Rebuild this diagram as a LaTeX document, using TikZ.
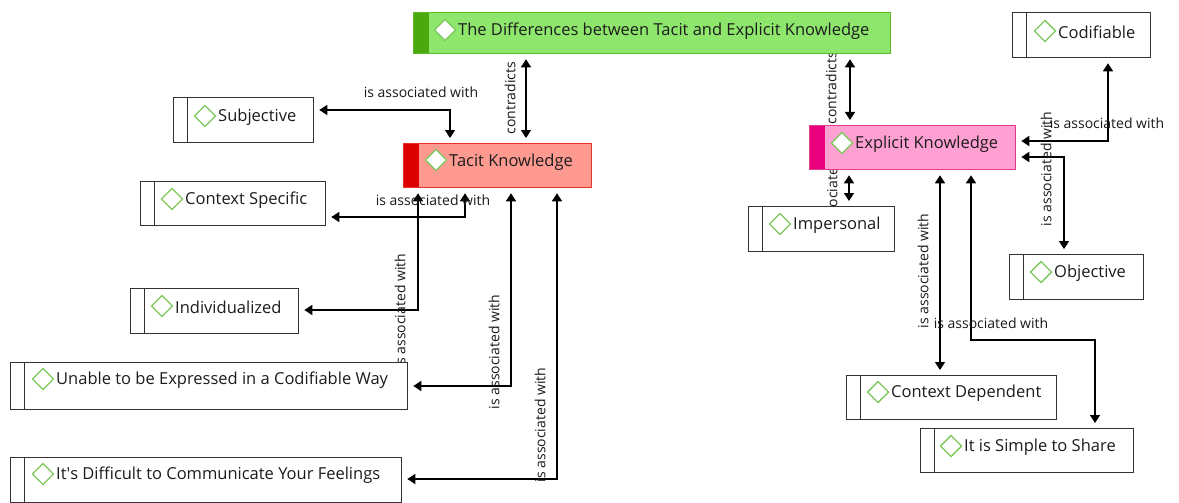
\documentclass[tikz,border=0pt]{standalone}
\usepackage{fontspec}
\setmainfont{Open Sans}
\usetikzlibrary{arrows.meta,shapes.geometric,backgrounds}
\definecolor{rootfill}{HTML}{8EE66C}
\definecolor{rootstripe}{HTML}{4BA80F}
\definecolor{rootline}{HTML}{5DB82A}
\definecolor{tacfill}{HTML}{FF9A90}
\definecolor{tacstripe}{HTML}{DC0000}
\definecolor{tacline}{HTML}{E8322A}
\definecolor{expfill}{HTML}{FFA0D2}
\definecolor{expstripe}{HTML}{E8007C}
\definecolor{expline}{HTML}{E33A8A}
\definecolor{diamgreen}{HTML}{7CC95A}
\definecolor{txtc}{HTML}{1C1C1C}
\tikzset{
  box/.style={line width=1.3pt, anchor=north west, inner sep=0pt},
  sz/.style 2 args={minimum width=#1pt, minimum height=#2pt},
  plainbox/.style={box, draw=black!80, fill=white,
    path picture={\draw[line width=1.3pt, black!80] ([xshift=14pt]path picture bounding box.north west) -- ([xshift=14pt]path picture bounding box.south west);}},
  colbox/.style n args={3}{box, fill=#1, draw=#3,
    path picture={\fill[#2] (path picture bounding box.south west) rectangle ([xshift=15pt]path picture bounding box.north west);}},
  diam/.style={diamond, draw=diamgreen, line width=1.4pt, fill=white, minimum width=21pt, minimum height=21pt, inner sep=0pt, outer sep=0pt, shape aspect=1},
  txt/.style={anchor=west, text=txtc, font=\fontsize{16.5}{19}\selectfont, inner sep=0pt},
  lab/.style={font=\fontsize{14}{16}\selectfont, inner sep=0pt, text=black!90},
  con/.style={{Triangle[width=10pt,length=8pt]}-{Triangle[width=10pt,length=8pt]}, line width=1.5pt, shorten <=5pt, shorten >=5pt}
}
\begin{document}
\begin{tikzpicture}[x=1pt,y=-1pt]
\useasboundingbox (0,0) rectangle (1179,503);
% boxes
\node[colbox={rootfill}{rootstripe}{rootline}, sz={477}{41}] (root) at (413,12) {};
\node[colbox={tacfill}{tacstripe}{tacline}, sz={188}{44}] (tacit) at (403,143) {};
\node[colbox={expfill}{expstripe}{expline}, sz={206}{44}] (explicit) at (809,125) {};
\node[plainbox, sz={138}{45}] (codif) at (1012,12) {};
\node[plainbox, sz={140}{45}] (subj) at (173,97) {};
\node[plainbox, sz={185}{44}] (cspec) at (140,181) {};
\node[plainbox, sz={168}{45}] (indiv) at (130,288) {};
\node[plainbox, sz={397}{47}] (unable) at (10,362) {};
\node[plainbox, sz={391}{45}] (diff) at (10,457) {};
\node[plainbox, sz={146}{45}] (imp) at (748,206) {};
\node[plainbox, sz={134}{45}] (obj) at (1009,254) {};
\node[plainbox, sz={210}{44}] (cdep) at (846,375) {};
\node[plainbox, sz={213}{44}] (simple) at (920,428) {};
% icons and texts
\node[diam] (root-d) at (445,30) {};
\node[txt] (root-t) at (458,31) {The Differences between Tacit and Explicit Knowledge};
\node[diam] (tacit-d) at (436,160) {};
\node[txt] (tacit-t) at (449,162) {Tacit Knowledge};
\node[diam] (explicit-d) at (842,143) {};
\node[txt] (explicit-t) at (855,144) {Explicit Knowledge};
\node[diam] (codif-d) at (1045,31) {};
\node[txt] (codif-t) at (1058,32) {Codifiable};
\node[diam] (subj-d) at (205,116) {};
\node[txt] (subj-t) at (218,117) {Subjective};
\node[diam] (cspec-d) at (172,199) {};
\node[txt] (cspec-t) at (185,200) {Context Specific};
\node[diam] (indiv-d) at (162,306) {};
\node[txt] (indiv-t) at (175,307) {Individualized};
\node[diam] (unable-d) at (43,379) {};
\node[txt] (unable-t) at (56,380) {Unable to be Expressed in a Codifiable Way};
\node[diam] (diff-d) at (43,474) {};
\node[txt] (diff-t) at (56,475) {It\textquotesingle s Difficult to Communicate Your Feelings};
\node[diam] (imp-d) at (780,224) {};
\node[txt] (imp-t) at (793,225) {Impersonal};
\node[diam] (obj-d) at (1041,272) {};
\node[txt] (obj-t) at (1054,273) {Objective};
\node[diam] (cdep-d) at (878,392) {};
\node[txt] (cdep-t) at (891,393) {Context Dependent};
\node[diam] (simple-d) at (951,446) {};
\node[txt] (simple-t) at (964,447) {It is Simple to Share};
% connectors
\begin{pgfonlayer}{background}
\draw[con] (526,0 |- root.south) -- (526,0 |- tacit.north);
\draw[con] (850,0 |- root.south) -- (850,0 |- explicit.north);
\draw[con] (subj.east |- 0,110) -| (450,0 |- tacit.north);
\draw[con] (465,0 |- tacit.south) |- (cspec.east |- 0,217);
\draw[con] (418,0 |- tacit.south) |- (indiv.east |- 0,310);
\draw[con] (511,0 |- tacit.south) |- (unable.east |- 0,386);
\draw[con] (557,0 |- tacit.south) |- (diff.east |- 0,479);
\draw[con] (1108,0 |- codif.south) |- (explicit.east |- 0,141);
\draw[con] (explicit.east |- 0,157) -| (1064,0 |- obj.north);
\draw[con] (849,0 |- explicit.south) -- (849,0 |- imp.north);
\draw[con] (940,0 |- explicit.south) -- (940,0 |- cdep.north);
\draw[con] (971,0 |- explicit.south) |- (1095,340) -- (1095,0 |- simple.north);
% labels
\node[lab, rotate=90] (l1) at (510,98) {contradicts};
\node[lab, rotate=90] (l2) at (831,88) {contradicts};
\node[lab] (l3) at (421,92) {is associated with};
\node[lab] (l4) at (433,200) {is associated with};
\node[lab, rotate=90] (l5) at (400,311) {is associated with};
\node[lab, rotate=90] (l6) at (494,352) {is associated with};
\node[lab, rotate=90] (l7) at (540,425) {is associated with};
\node[lab] (l8) at (1107,123) {is associated with};
\node[lab, rotate=90] (l9) at (1046,169) {is associated with};
\node[lab, rotate=90] (l10) at (832,185) {is associated with};
\node[lab, rotate=90] (l11) at (923,271) {is associated with};
\node[lab] (l12) at (991,323) {is associated with};
\end{pgfonlayer}
\end{tikzpicture}
\end{document}
